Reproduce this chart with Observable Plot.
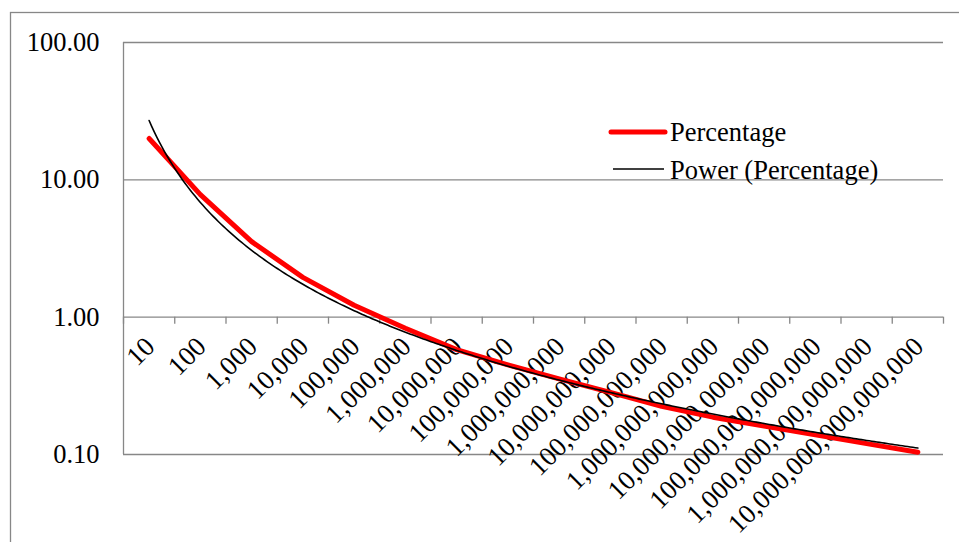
<!DOCTYPE html>
<html><head><meta charset="utf-8">
<script src="https://cdn.jsdelivr.net/npm/d3@7"></script>
<script src="https://cdn.jsdelivr.net/npm/@observablehq/plot@0.6"></script>
<style>
body{margin:0;background:#fff;}
#chart{position:relative;width:959px;height:542px;overflow:hidden}
</style>
</head><body><div id="chart"></div>
<script>
const categories = ["10","100","1,000","10,000","100,000","1,000,000","10,000,000","100,000,000",
  "1,000,000,000","10,000,000,000","100,000,000,000","1,000,000,000,000","10,000,000,000,000",
  "100,000,000,000,000","1,000,000,000,000,000","10,000,000,000,000,000"];
const percentage = [20, 7.8, 3.55, 1.95, 1.22, 0.83, 0.58, 0.45, 0.355, 0.283, 0.224, 0.187, 0.161, 0.139, 0.12, 0.104];
const yTicks = [0.1, 1, 10, 100];
const seriesNames = ["Percentage", "Power (Percentage)"];

const data = categories.map((c, i) => ({i: i + 1, label: c, value: percentage[i]}));
// Excel-style power trendline: least squares fit of ln(y) on ln(x), x = category index
const lx = data.map(d => Math.log(d.i)), ly = data.map(d => Math.log(d.value));
const mx = d3.mean(lx), my = d3.mean(ly);
const b = d3.sum(lx.map((v, k) => (v - mx) * (ly[k] - my))) / d3.sum(lx.map(v => (v - mx) ** 2));
const a = Math.exp(my - b * mx);
const trend = d3.range(1, 16.0001, 0.05).map(x => ({x, y: a * Math.pow(x, b)}));
const boundaries = d3.range(0.5, 16.51, 1);
const grey = "#878787";
const serif = "Liberation Serif";
const fs = 26.5;
const fsX = 27;

const plot = Plot.plot({
  width: 959, height: 542, marginLeft: 123, marginRight: 16, marginTop: 42, marginBottom: 88,
  style: {fontSize: fs + "px", color: "#000", background: "transparent"},
  x: {type: "linear", domain: [0.5, 16.5], axis: null},
  y: {type: "log", domain: [0.1, 100], axis: null},
  marks: [
    Plot.gridY(yTicks, {stroke: grey, strokeOpacity: 1, strokeWidth: 1.3}),
    Plot.ruleX([0.5], {stroke: grey, strokeWidth: 1.3}),
    Plot.ruleX(boundaries, {x: d => d, y1: () => 1, y2: () => 1, insetBottom: -7, stroke: grey, strokeWidth: 1.3}),
    Plot.axisY(yTicks, {tickFormat: d3.format(".2f"), tickSize: 0, tickPadding: 24, fontSize: fs, fill: "#000"}),
    Plot.text(data, {x: "i", y: () => 1, text: "label", rotate: -45, textAnchor: "end", dx: 1, dy: 25, fontSize: fsX, fill: "#000"}),
    Plot.line(data, {x: "i", y: "value", stroke: "#ff0000", strokeWidth: 5, strokeLinecap: "round", strokeLinejoin: "round"}),
    Plot.line(trend, {x: "x", y: "y", stroke: "#000", strokeWidth: 1.6})
  ]
});

const svg = d3.select(plot);
svg.insert("rect", ":first-child").attr("x", 10.5).attr("y", 12.5).attr("width", 1000).attr("height", 1000)
  .attr("fill", "none").attr("stroke", grey).attr("stroke-width", 1.3);
const leg = svg.append("g").attr("fill", "#000");
leg.append("line").attr("x1", 611).attr("x2", 665).attr("y1", 132).attr("y2", 132)
  .attr("stroke", "#ff0000").attr("stroke-width", 5).attr("stroke-linecap", "round");
leg.append("text").attr("x", 670).attr("y", 141).style("text-anchor", "start").style("font-size", fs + "px").text(seriesNames[0]);
leg.append("line").attr("x1", 613).attr("x2", 664).attr("y1", 169).attr("y2", 169)
  .attr("stroke", "#000").attr("stroke-width", 1.6);
leg.append("text").attr("x", 670).attr("y", 179).style("text-anchor", "start").style("font-size", fs + "px").text(seriesNames[1]);

svg.attr("font-family", serif).style("font-family", serif);
svg.selectAll("g, text").attr("font-family", serif).style("font-family", serif);

document.getElementById("chart").appendChild(plot);
</script>
</body></html>
